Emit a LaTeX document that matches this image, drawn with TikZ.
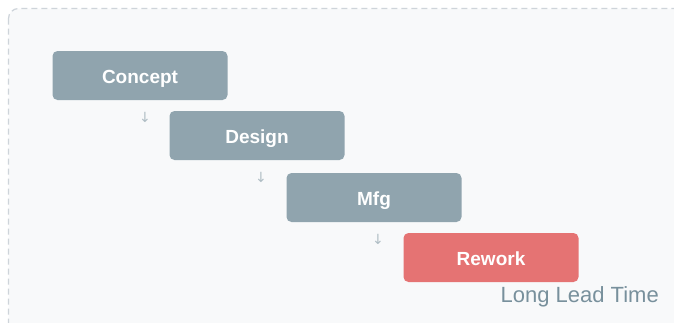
\documentclass[tikz,border=0pt]{standalone}
\usepackage{fontspec}
\setmainfont{Liberation Sans}
\newfontfamily\symfont{DejaVu Sans}
\definecolor{bgc}{HTML}{F8F9FA}
\definecolor{framec}{HTML}{CED4DA}
\definecolor{boxc}{HTML}{90A4AE}
\definecolor{redc}{HTML}{E57373}
\definecolor{arrc}{HTML}{B0BEC5}
\definecolor{labc}{HTML}{78909C}
\tikzset{
  stepbox/.style={rectangle, rounded corners=5pt, fill=boxc, text=white,
    minimum width=175pt, minimum height=49pt, inner sep=0pt,
    text height=15.5pt, text depth=0pt,
    font=\fontsize{19}{21}\selectfont\bfseries},
  downglyph/.style={text=arrc, inner sep=0pt, font=\symfont\fontsize{14}{14}\selectfont}
}
\begin{document}
\begin{tikzpicture}[x=1pt,y=-1pt]
\useasboundingbox (0,0) rectangle (674,322);
\clip (0,0) rectangle (674,322);
\fill[white] (0,0) rectangle (674,322);
\draw[framec, fill=bgc, dashed, dash pattern=on 6pt off 4pt, line width=1.2pt, rounded corners=10pt] (8.5,8.5) rectangle (684,334);
\node[stepbox] (concept) at (140,75.5) {Concept};
\node[stepbox] (design) at (257,135.5) {Design};
\node[stepbox] (mfg) at (374,197.5) {Mfg};
\node[stepbox, fill=redc] (rework) at (491,257.5) {Rework};
\node[downglyph] (a1) at (145,117) {↓};
\node[downglyph] (a2) at (261,177) {↓};
\node[downglyph] (a3) at (378,239) {↓};
\node[text=labc, anchor=base east, inner sep=0pt, font=\fontsize{22}{24}\selectfont] (lbl) at (659,302.5) {Long Lead Time};
\end{tikzpicture}
\end{document}
